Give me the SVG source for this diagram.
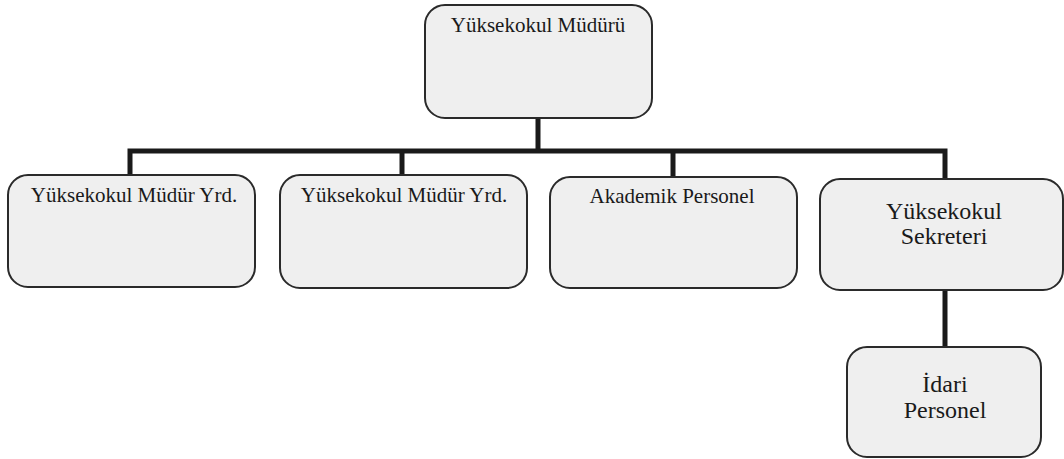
<svg xmlns="http://www.w3.org/2000/svg" width="1064" height="459" viewBox="0 0 1064 459">
<style>
.box{fill:#efefef;stroke:#2a2a2a;stroke-width:2}
.t{font-family:"Liberation Serif","Times New Roman",serif;fill:#1a1a1a;text-anchor:middle}
.s{font-size:21px}
.b{font-size:24px}
.c{stroke:#1a1a1a;stroke-width:5;fill:none}
</style>
<rect width="1064" height="459" fill="#ffffff"/>
<g id="connectors">
<path class="c" d="M538 118 V151 M130 175 V151 H945 V179 M402 151 V175 M673 151 V177 M945 290 V347"/>
</g>
<g id="n-mudur"><rect class="box" x="425" y="5" width="227" height="113" rx="20"/><text class="t s" x="538" y="32">Yüksekokul Müdürü</text></g>
<g id="n-yrd1"><rect class="box" x="8" y="175" width="247" height="112" rx="20"/><text class="t s" x="134" y="202">Yüksekokul Müdür Yrd.</text></g>
<g id="n-yrd2"><rect class="box" x="280" y="175" width="247" height="113" rx="20"/><text class="t s" x="404" y="202">Yüksekokul Müdür Yrd.</text></g>
<g id="n-akademik"><rect class="box" x="550" y="177" width="247" height="111" rx="20"/><text class="t s" x="672" y="203">Akademik Personel</text></g>
<g id="n-sekreter"><rect class="box" x="820" y="179" width="243" height="111" rx="20"/><text class="t b" x="944" y="219">Yüksekokul</text><text class="t b" x="944" y="244">Sekreteri</text></g>
<g id="n-idari"><rect class="box" x="847" y="347" width="194" height="110" rx="20"/><text class="t b" x="945" y="392">İdari</text><text class="t b" x="945" y="418">Personel</text></g>
</svg>
